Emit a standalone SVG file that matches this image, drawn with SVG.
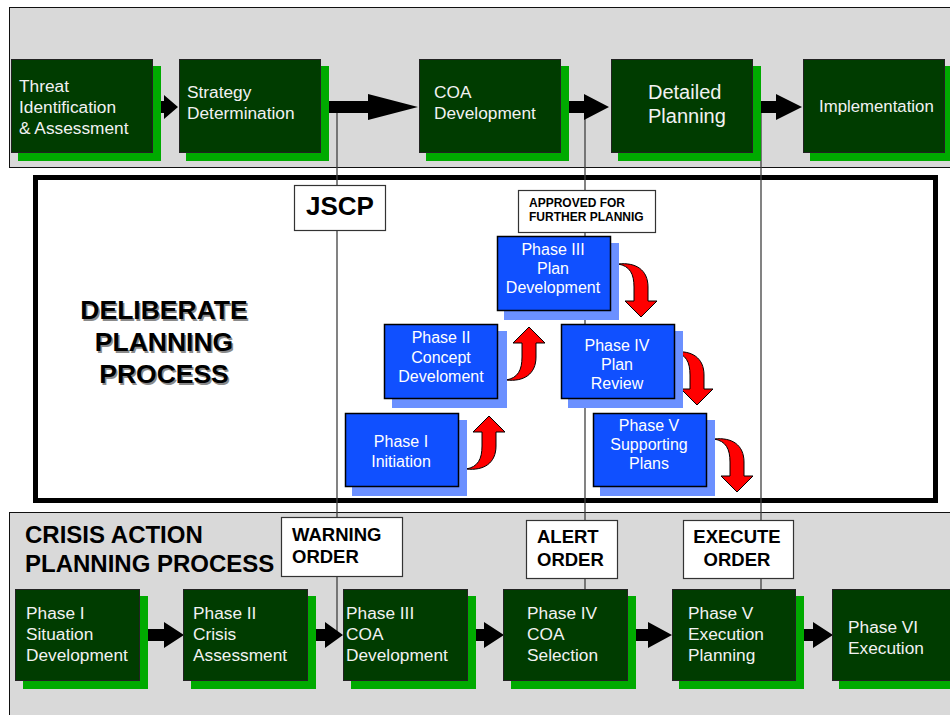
<svg xmlns="http://www.w3.org/2000/svg" xmlns:xlink="http://www.w3.org/1999/xlink" width="950" height="715" viewBox="0 0 950 715">
<defs>
<style>
.band{fill:#d9d9d9;stroke:#111;stroke-width:1}
.gn{fill:#003c00;stroke:#222;stroke-width:1}
.gs{fill:#00aa00}
.bn{fill:#1050ff;stroke:#000;stroke-width:1.5}
.bs{fill:#6b90ff}
.lbl{fill:#fff;stroke:#333;stroke-width:1.2}
.wt{font-family:"Liberation Sans",Arial,sans-serif;fill:#f2f2f2;font-size:17.3px}
.bt{font-family:"Liberation Sans",Arial,sans-serif;fill:#fff;font-size:16px;text-anchor:middle}
.kb{font-family:"Liberation Sans",Arial,sans-serif;font-weight:bold;fill:#000}
.vl{stroke:#404040;stroke-width:1.3;fill:none}
.ba{fill:#000}
.ra{fill:#ff0000;stroke:#000;stroke-width:1}
</style>
<path id="up" d="M-23,53 C-11,51 -7,43 -7,30 L-7,16 L-16,16 L0,0 L16,16 L7,16 L7,30 C7,47 -5,55 -23,53 Z"/>
</defs>
<rect width="950" height="715" fill="#fff"/>
<rect class="band" x="9.5" y="7.5" width="950" height="160"/>
<rect class="band" x="9.5" y="512.5" width="950" height="220"/>
<rect x="35.5" y="177.5" width="900" height="323" fill="#fff" stroke="#000" stroke-width="5"/>

<g id="connectors">
<line class="vl" x1="337" y1="110" x2="337" y2="632"/>
<line class="vl" x1="585" y1="110" x2="585" y2="592"/>
<line class="vl" x1="761" y1="110" x2="761" y2="592"/>
<polygon class="ba" points="150,101 164,101 164,95 178,107 164,119 164,113 150,113"/>
<polygon class="ba" points="318,101 368,101 368,94 418,107 368,120 368,113 318,113"/>
<polygon class="ba" points="558,101 584,101 584,94 609,107 584,120 584,113 558,113"/>
<polygon class="ba" points="750,101 776,101 776,94 802,107 776,120 776,113 750,113"/>
<polygon class="ba" points="140,629 164,629 164,622 184,635 164,648 164,641 140,641"/>
<polygon class="ba" points="305,629 325,629 325,622 343,635 325,648 325,641 305,641"/>
<polygon class="ba" points="465,629 484,629 484,622 504,635 484,648 484,641 465,641"/>
<polygon class="ba" points="624,629 648,629 648,622 672,635 648,648 648,641 624,641"/>
<polygon class="ba" points="793,629 813,629 813,622 833,635 813,648 813,641 793,641"/>
<use xlink:href="#up" class="ra" transform="translate(489,416)"/>
<use xlink:href="#up" class="ra" transform="translate(529,327)"/>
<use xlink:href="#up" class="ra" transform="translate(641,317) scale(1,-1)"/>
<use xlink:href="#up" class="ra" transform="translate(697,405) scale(1,-1)"/>
<use xlink:href="#up" class="ra" transform="translate(737,492) scale(1,-1)"/>
</g>

<g id="threat"><rect class="gs" x="18" y="66" width="143" height="95"/><rect class="gn" x="11.5" y="59.5" width="141" height="93"/>
<text class="wt" x="19" y="92">Threat</text><text class="wt" x="19" y="113">Identification</text><text class="wt" x="19" y="134">&amp; Assessment</text></g>
<g id="strategy"><rect class="gs" x="186" y="66" width="143" height="95"/><rect class="gn" x="179.5" y="59.5" width="141" height="93"/>
<text class="wt" x="187" y="98">Strategy</text><text class="wt" x="187" y="119">Determination</text></g>
<g id="coa"><rect class="gs" x="426" y="66" width="143" height="95"/><rect class="gn" x="419.5" y="59.5" width="141" height="93"/>
<text class="wt" x="434" y="98">COA</text><text class="wt" x="434" y="119">Development</text></g>
<g id="detailed"><rect class="gs" x="618" y="66" width="143" height="95"/><rect class="gn" x="611.5" y="59.5" width="141" height="93"/>
<text class="wt" x="648" y="99" style="font-size:20px">Detailed</text><text class="wt" x="648" y="123" style="font-size:20px">Planning</text></g>
<g id="implementation"><rect class="gs" x="810" y="66" width="143" height="95"/><rect class="gn" x="803.5" y="59.5" width="141" height="93"/>
<text class="wt" x="819" y="112" style="font-size:16.8px">Implementation</text></g>

<g id="deliberate">
<g class="kb" style="font-size:26.5px;text-anchor:middle;fill:#8a8a8a"><text x="165.5" y="320.5">DELIBERATE</text><text x="165.5" y="352.5">PLANNING</text><text x="165.5" y="384.5">PROCESS</text></g>
<g class="kb" style="font-size:26.5px;text-anchor:middle"><text x="164" y="319">DELIBERATE</text><text x="164" y="351">PLANNING</text><text x="164" y="383">PROCESS</text></g>
</g>

<g id="jscp"><rect class="lbl" x="294.5" y="185.5" width="91" height="45"/><text class="kb" x="340" y="215" style="font-size:26px;text-anchor:middle">JSCP</text></g>
<g id="approved"><rect class="lbl" x="518.5" y="190.5" width="137" height="42"/>
<text class="kb" x="529" y="207" style="font-size:12px">APPROVED FOR</text><text class="kb" x="529" y="221" style="font-size:12px">FURTHER PLANNIG</text></g>

<g id="dp1"><rect class="bs" x="352" y="420" width="115" height="76"/><rect class="bn" x="345.5" y="413.5" width="113" height="73"/>
<text class="bt" x="401" y="447">Phase I</text><text class="bt" x="401" y="467">Initiation</text></g>
<g id="dp2"><rect class="bs" x="392" y="331" width="115" height="77"/><rect class="bn" x="384.5" y="324.5" width="113" height="74"/>
<text class="bt" x="441" y="343">Phase II</text><text class="bt" x="441" y="363">Concept</text><text class="bt" x="441" y="382">Develoment</text></g>
<g id="dp3"><rect class="bs" x="504" y="243" width="115" height="77"/><rect class="bn" x="497.5" y="236.5" width="113" height="74"/>
<text class="bt" x="553" y="255">Phase III</text><text class="bt" x="553" y="274">Plan</text><text class="bt" x="553" y="293">Development</text></g>
<g id="dp4"><rect class="bs" x="568" y="331" width="115" height="77"/><rect class="bn" x="561.5" y="324.5" width="113" height="74"/>
<text class="bt" x="617" y="351">Phase IV</text><text class="bt" x="617" y="370">Plan</text><text class="bt" x="617" y="389">Review</text></g>
<g id="dp5"><rect class="bs" x="600" y="420" width="115" height="76"/><rect class="bn" x="593.5" y="413.5" width="113" height="73"/>
<text class="bt" x="649" y="431">Phase V</text><text class="bt" x="649" y="450">Supporting</text><text class="bt" x="649" y="469">Plans</text></g>

<g id="crisis"><text class="kb" x="25" y="543" style="font-size:24px">CRISIS ACTION</text><text class="kb" x="25" y="572" style="font-size:24px">PLANNING PROCESS</text></g>

<g id="warning"><rect class="lbl" x="281.5" y="517.5" width="121" height="59"/>
<text class="kb" x="292" y="541" style="font-size:18.5px">WARNING</text><text class="kb" x="292" y="563" style="font-size:18.5px">ORDER</text></g>
<g id="alert"><rect class="lbl" x="526.5" y="520.5" width="91" height="58"/>
<text class="kb" x="537" y="543" style="font-size:18.5px">ALERT</text><text class="kb" x="537" y="566" style="font-size:18.5px">ORDER</text></g>
<g id="execute"><rect class="lbl" x="683.5" y="520.5" width="110" height="58"/>
<text class="kb" x="737" y="543" style="font-size:18.5px;text-anchor:middle">EXECUTE</text><text class="kb" x="737" y="566" style="font-size:18.5px;text-anchor:middle">ORDER</text></g>

<g id="cap1"><rect class="gs" x="23" y="596" width="125" height="93"/><rect class="gn" x="15.5" y="589.5" width="124" height="91"/>
<text class="wt" x="26" y="619">Phase I</text><text class="wt" x="26" y="640">Situation</text><text class="wt" x="26" y="661">Development</text></g>
<g id="cap2"><rect class="gs" x="191" y="596" width="125" height="93"/><rect class="gn" x="183.5" y="589.5" width="124" height="91"/>
<text class="wt" x="193" y="619">Phase II</text><text class="wt" x="193" y="640">Crisis</text><text class="wt" x="193" y="661">Assessment</text></g>
<g id="cap3"><rect class="gs" x="351" y="596" width="125" height="93"/><rect class="gn" x="343.5" y="589.5" width="124" height="91"/>
<text class="wt" x="346" y="619">Phase III</text><text class="wt" x="346" y="640">COA</text><text class="wt" x="346" y="661">Development</text></g>
<g id="cap4"><rect class="gs" x="511" y="596" width="125" height="93"/><rect class="gn" x="503.5" y="589.5" width="124" height="91"/>
<text class="wt" x="527" y="619">Phase IV</text><text class="wt" x="527" y="640">COA</text><text class="wt" x="527" y="661">Selection</text></g>
<g id="cap5"><rect class="gs" x="679" y="596" width="125" height="93"/><rect class="gn" x="672.5" y="589.5" width="123" height="91"/>
<text class="wt" x="688" y="619">Phase V</text><text class="wt" x="688" y="640">Execution</text><text class="wt" x="688" y="661">Planning</text></g>
<g id="cap6"><rect class="gs" x="839" y="596" width="125" height="93"/><rect class="gn" x="832.5" y="589.5" width="124" height="91"/>
<text class="wt" x="848" y="633">Phase VI</text><text class="wt" x="848" y="654">Execution</text></g>
</svg>
